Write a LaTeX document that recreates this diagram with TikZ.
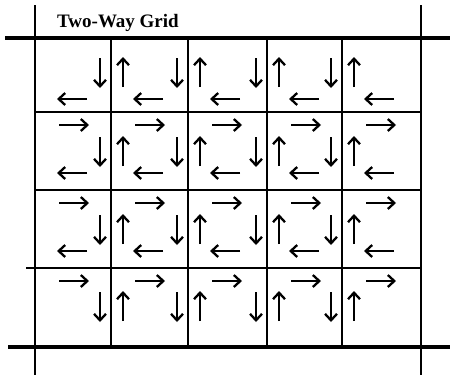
\documentclass[tikz,border=0pt]{standalone}
\usepackage{fontspec}
\setmainfont{Liberation Serif}
\usetikzlibrary{arrows.meta}
\begin{document}
\begin{tikzpicture}[x=1pt,y=-1pt,
  gridline/.style={line width=2.3pt,line cap=rect},
  frameline/.style={line width=3.8pt},
  sideline/.style={line width=2.7pt},
  flow/.style={line width=2.5pt,-{Straight Barb[length=6.5pt,width=12pt,line width=2.3pt]}}]
\useasboundingbox (0,0) rectangle (450,375);
% title
\node[anchor=base west,inner sep=0pt,font=\bfseries\fontsize{19}{19}\selectfont] (title) at (57,27) {Two-Way Grid};
% outer lines
\draw[frameline] (5,38) -- (450,38);
\draw[frameline] (8,347) -- (450,347);
\draw[sideline] (35,5) -- (35,375);
\draw[sideline] (421,5) -- (421,375);
% inner grid
\foreach \y in {112,190} \draw[gridline] (35,\y) -- (421,\y);
\draw[gridline] (27,268) -- (421,268);
\foreach \x in {111,188,267,342} \draw[gridline] (\x,38) -- (\x,347);
% arrows
\foreach \c/\xa/\xb in {1/35/111,2/111/188,3/188/267,4/267/342,5/342/421}
  \foreach \r/\ya/\s in {1/38/-5,2/112/0,3/190/0,4/268/-1} {
    \ifnum\r>1 \draw[flow] (\xa+24,\ya+13) -- (\xa+54,\ya+13); \fi
    \ifnum\r<4 \draw[flow] (\xa+52,\ya+61) -- (\xa+22,\ya+61); \fi
    \ifnum\c<5 \draw[flow] (\xb-11,\ya+25+\s) -- (\xb-11,\ya+55+\s); \fi
    \ifnum\c>1 \draw[flow] (\xa+12,\ya+54+\s) -- (\xa+12,\ya+24+\s); \fi
  }
\end{tikzpicture}
\end{document}
